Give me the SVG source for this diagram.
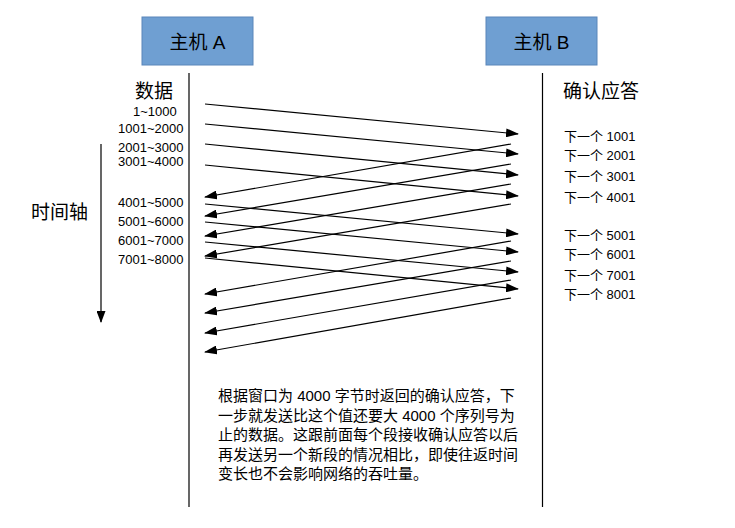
<svg xmlns="http://www.w3.org/2000/svg" width="735" height="528" viewBox="0 0 735 528">
<style>
text{font-family:"Liberation Sans","Noto Sans CJK SC",sans-serif;fill:#000}
.box{fill:#6f9fd2;stroke:#5a86ba;stroke-width:1}
.t19{font-size:19px}
.t13{font-size:13px}
.t15{font-size:15px}
.ln{stroke:#000;stroke-width:1.2;fill:none}
.arr{stroke:#000;stroke-width:1.2;fill:none;marker-end:url(#ah)}
</style>
<defs>
<marker id="ah" markerUnits="userSpaceOnUse" viewBox="0 0 13 9" refX="12" refY="4.5" markerWidth="13" markerHeight="9" orient="auto">
<path d="M0,0 L13,4.5 L0,9 z" fill="#000"/>
</marker>
<marker id="ah2" markerUnits="userSpaceOnUse" viewBox="0 0 12 9" refX="11" refY="4.5" markerWidth="12" markerHeight="9" orient="auto">
<path d="M0,0 L12,4.5 L0,9 z" fill="#000"/>
</marker>
</defs>
<g id="hostA">
<rect class="box" x="142" y="17" width="111" height="48"/>
<text class="t19" x="197.5" y="49" text-anchor="middle">主机 A</text>
</g>
<g id="hostB">
<rect class="box" x="486" y="17" width="111" height="48"/>
<text class="t19" x="541.5" y="49" text-anchor="middle">主机 B</text>
</g>
<g id="lifelines">
<line class="ln" x1="189" y1="73" x2="189" y2="507"/>
<line class="ln" x1="542.5" y1="73" x2="542.5" y2="507"/>
</g>
<g id="timeaxis">
<line x1="101" y1="144" x2="101" y2="322" stroke="#000" stroke-width="1.2" marker-end="url(#ah2)"/>
<text class="t19" x="31" y="219">时间轴</text>
</g>
<g id="labelsA">
<text class="t19" x="135" y="98">数据</text>
<text class="t13" x="133" y="116">1~1000</text>
<text class="t13" x="118" y="133">1001~2000</text>
<text class="t13" x="118" y="152">2001~3000</text>
<text class="t13" x="118" y="166">3001~4000</text>
<text class="t13" x="118" y="207">4001~5000</text>
<text class="t13" x="118" y="225.5">5001~6000</text>
<text class="t13" x="118" y="245">6001~7000</text>
<text class="t13" x="118" y="263.5">7001~8000</text>
</g>
<g id="labelsB">
<text class="t19" x="563" y="98">确认应答</text>
<text class="t13" x="564" y="141">下一个 1001</text>
<text class="t13" x="564" y="160">下一个 2001</text>
<text class="t13" x="564" y="181">下一个 3001</text>
<text class="t13" x="564" y="202">下一个 4001</text>
<text class="t13" x="564" y="239.5">下一个 5001</text>
<text class="t13" x="564" y="259">下一个 6001</text>
<text class="t13" x="564" y="279.5">下一个 7001</text>
<text class="t13" x="564" y="299">下一个 8001</text>
</g>
<g id="connectors">
<line class="arr" x1="205" y1="104" x2="518" y2="134"/>
<line class="arr" x1="205" y1="124" x2="518" y2="154"/>
<line class="arr" x1="205" y1="144" x2="518" y2="175"/>
<line class="arr" x1="205" y1="165" x2="518" y2="196"/>
<line class="arr" x1="205" y1="204" x2="518" y2="234"/>
<line class="arr" x1="205" y1="222" x2="518" y2="252"/>
<line class="arr" x1="205" y1="242" x2="518" y2="272"/>
<line class="arr" x1="205" y1="258" x2="518" y2="289"/>
<line class="arr" x1="511" y1="144" x2="205" y2="197"/>
<line class="arr" x1="511" y1="164" x2="205" y2="216"/>
<line class="arr" x1="511" y1="184" x2="205" y2="236"/>
<line class="arr" x1="511" y1="204" x2="205" y2="256"/>
<line class="arr" x1="511" y1="241" x2="205" y2="294"/>
<line class="arr" x1="511" y1="261" x2="205" y2="313"/>
<line class="arr" x1="511" y1="280" x2="205" y2="333"/>
<line class="arr" x1="511" y1="298" x2="205" y2="352"/>
</g>
<g id="note">
<text class="t15" x="218" y="401">根据窗口为 4000 字节时返回的确认应答，下</text>
<text class="t15" x="218" y="421">一步就发送比这个值还要大 4000 个序列号为</text>
<text class="t15" x="218" y="440">止的数据。这跟前面每个段接收确认应答以后</text>
<text class="t15" x="218" y="460">再发送另一个新段的情况相比，即使往返时间</text>
<text class="t15" x="218" y="479">变长也不会影响网络的吞吐量。</text>
</g>
</svg>
